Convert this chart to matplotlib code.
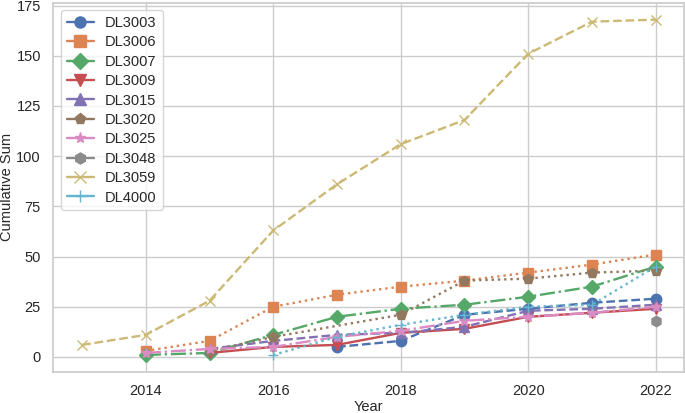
import numpy as np
import matplotlib
matplotlib.use('Agg')
import matplotlib.pyplot as plt
import seaborn as sns
from matplotlib.lines import Line2D

sns.set_theme(style='whitegrid', palette='deep')
plt.rcParams['font.family'] = ['Liberation Sans', 'DejaVu Sans']

nan = np.nan
years = [2013, 2014, 2015, 2016, 2017, 2018, 2019, 2020, 2021, 2022]

rules = ['DL3003', 'DL3006', 'DL3007', 'DL3009', 'DL3015',
         'DL3020', 'DL3025', 'DL3048', 'DL3059', 'DL4000']

dl3003 = [nan, nan, nan, nan, 5, 8, 21, 24, 27, 29]
dl3006 = [nan, 3, 8, 25, 31, 35, 38, 42, 46, 51]
dl3007 = [nan, 1, 2, 11, 20, 24, 26, 30, 35, 45]
dl3009 = [nan, nan, 2, 5, 6, 12, 14, 20, 22, 24]
dl3015 = [nan, nan, 4, 8, 11, 12, 15, 23, 24, 26]
dl3020 = [nan, nan, 3, 10, nan, 21, 38, 39, 42, 43]
dl3025 = [nan, 2, 4, 5, 10, 13, 18, 20, 22, 25]
dl3048 = [nan, nan, nan, nan, nan, nan, nan, nan, nan, 18]
dl3059 = [6, 11, 28, 63, 86, 106, 118, 151, 167, 168]
dl4000 = [nan, nan, nan, 1, 10, 16, 21, 25, 26, 45]

series = [dl3003, dl3006, dl3007, dl3009, dl3015,
          dl3020, dl3025, dl3048, dl3059, dl4000]

markers = ['o', 's', 'D', 'v', '^', 'p', '*', 'h', 'x', '+']
styles = ['--', ':', '-.', '-']
colors = sns.color_palette('deep', 10)

fig, ax = plt.subplots(figsize=(6.85, 4.13), dpi=100)

handles = []
for i, (name, vals) in enumerate(zip(rules, series)):
    y = np.array(vals, dtype=float)
    x = np.array(years)
    mask = ~np.isnan(y)
    ax.plot(x[mask], y[mask], linestyle=styles[i % 4], marker=markers[i],
            color=colors[i], markersize=7.5, linewidth=1.7)
    handles.append(Line2D([], [], color=colors[i], marker=markers[i],
                          markersize=8, linewidth=1.7, label=name))

ax.legend(handles=handles, loc='upper left', fontsize=10.5,
          handlelength=1.9, labelspacing=0.37, borderpad=0.4,
          handletextpad=0.75)
ax.set_xlabel('Year', fontsize=10.5, labelpad=1)
ax.set_ylabel('Cumulative Sum', fontsize=10.5, labelpad=2)
ax.set_xticks([2014, 2016, 2018, 2020, 2022])
ax.set_yticks([0, 25, 50, 75, 100, 125, 150, 175])
ax.tick_params(labelsize=10.5, pad=3)

fig.subplots_adjust(left=0.078, right=0.999, top=0.993, bottom=0.1)
fig.savefig('out.png', dpi=100)
